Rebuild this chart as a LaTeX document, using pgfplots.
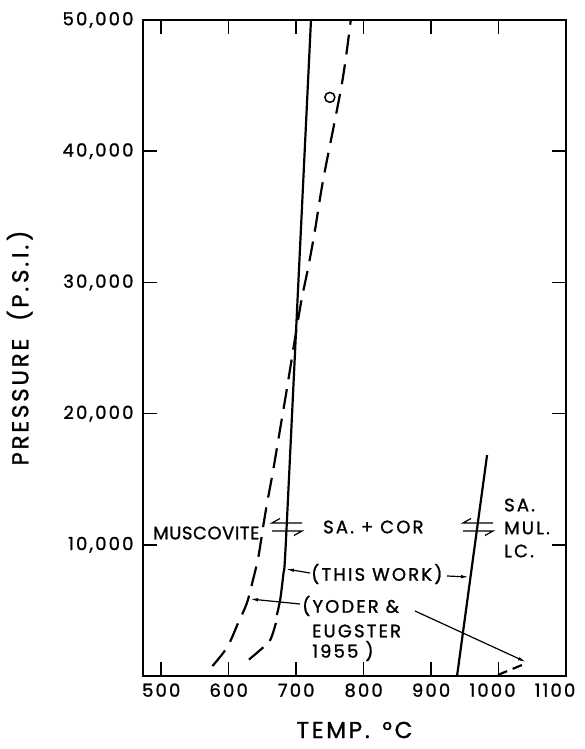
\documentclass[border=0pt]{standalone}
\usepackage{fontspec}
\setmainfont{Poppins}
\newfontfamily\spaced[LetterSpace=12, FakeBold=1.2]{Poppins}
\newfontfamily\plain[LetterSpace=3, FakeBold=1.2]{Poppins}
\usepackage{pgfplots}
\pgfplotsset{compat=1.18}
\usetikzlibrary{arrows.meta}

\begin{document}
\begin{tikzpicture}
\useasboundingbox (0,0) rectangle (584pt,749pt);
\begin{axis}[
  at={(143pt,73pt)}, anchor=south west,
  scale only axis, width=423pt, height=656pt,
  xmin=473, xmax=1100, ymin=0, ymax=50000,
  axis line style={line width=1.7pt},
  tick style={line width=1.5pt, black},
  major tick length=14pt,
  tick align=inside,
  scaled ticks=false,
  xtick={500,600,...,1100},
  xticklabels={500,600,700,800,900,{\hspace*{-12pt}1000},{\hspace*{-22pt}1100}},
  ytick={10000,20000,30000,40000,50000},
  yticklabels={{10,000},{20,000},{30,000},{40,000},{50,000}},
  /pgf/number format/assume math mode=true,
  ticklabel style={font=\spaced\fontsize{18}{21}\selectfont},
  xticklabel style={yshift=-4pt},
  yticklabel style={xshift=-6pt},
  xlabel={TEMP.\ \,°C},
  ylabel={PRESSURE\ \ (P.\,S.\,I.\,)},
  label style={font=\spaced\fontsize{23}{26}\selectfont},
  xlabel style={at={(axis description cs:0.5,-0.0823)}, anchor=center},
  ylabel style={at={(axis description cs:-0.2915,0.5)}, anchor=center},
  clip=false,
]
% muscovite breakdown, this work
\addplot[black, line width=2.2pt, smooth, tension=0.4] coordinates {
  (671.4,4650) (676.3,5790) (681.2,7825) (684.4,9830) (703.3,30000) (722,50000)};
% low-pressure extrapolation of the same curve
\addplot[black, line width=2.2pt, dash pattern=on 19pt off 9pt, smooth] coordinates {
  (670,4040) (661.5,2740) (646.7,1980) (624,990)};
% Yoder & Eugster (1955)
\addplot[black, line width=2.2pt, dash pattern=on 20pt off 10pt, smooth, tension=0.5] coordinates {
  (576,760) (598,2210) (614,4040) (627,5560) (636,7320) (644,9070)
  (651,11360) (657,13190) (666,15700) (676,18750) (686,21800)
  (706,28100) (718,31170) (728,34000) (740,37800) (768,45200) (781,50000)};
% sanidine + corundum = sanidine + mullite + liquid
\addplot[black, line width=2.2pt] coordinates {(938.5,0) (983,16840)};
% Yoder & Eugster high-temperature reaction
\addplot[black, line width=2.2pt, dash pattern=on 10pt off 6pt] coordinates {(999,80) (1042,990)};
% single run plotted beside the dashed curve
\addplot[black, only marks, mark=o, mark size=5pt, mark options={line width=1.5pt}] coordinates {(750,44100)};
\end{axis}

\begin{scope}[x=1pt, y=-1pt, yshift=749pt,
  every node/.style={inner sep=0pt, font=\spaced\fontsize{18}{21}\selectfont}]
  \node[anchor=west, font=\plain\fontsize{18}{21}\selectfont] at (153,533) {MUSCOVITE};
  \node[anchor=west] at (323,527) {SA.\ + COR};
  \node[anchor=west] at (504,505) {SA.};
  \node[anchor=west] at (504,528) {MUL.};
  \node[anchor=west] at (504,551) {LC.};
  \node[anchor=west] at (311,574) {(THIS WORK)};
  \node[anchor=west] at (302,606) {(YODER \&};
  \node[anchor=west] at (312,631) {EUGSTER};
  \node[anchor=west] at (312,651) {1955 )};
  % reaction arrows
  \begin{scope}[line width=1.2pt]
    \draw (302,523) -- (272,523) -- (280,518.5);
    \draw (272,531) -- (302,531) -- (294,535.5);
    \draw (493,523) -- (463,523) -- (471,518.5);
    \draw (463,531) -- (493,531) -- (485,535.5);
  \end{scope}
  % pointers to the curves
  \begin{scope}[line width=1.2pt, -{Latex[length=8pt,width=3.5pt]}]
    \draw (310,573) -- (286,569);
    \draw (447,576) -- (469,577);
    \draw (300,604) -- (250,599);
    \draw (415,611) -- (526,662);
  \end{scope}
\end{scope}
\end{tikzpicture}
\end{document}
